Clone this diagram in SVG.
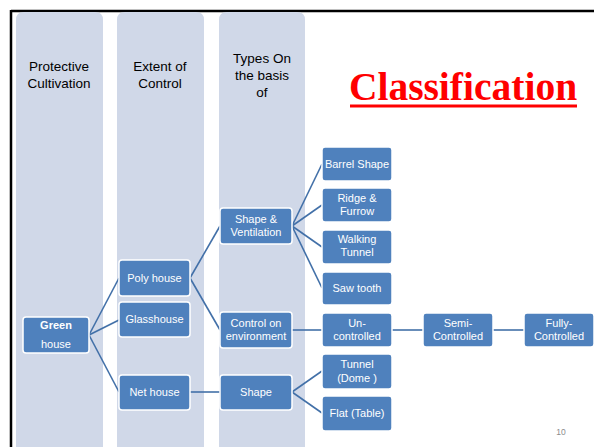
<svg xmlns="http://www.w3.org/2000/svg" width="594" height="447" viewBox="0 0 594 447">
<style>
.col{fill:#D0D8E8}
.hd{font-family:"Liberation Sans",Arial,sans-serif;font-size:13.5px;fill:#000;text-anchor:middle}
.n rect{fill:#4F81BD;stroke:#fff;stroke-width:1.5}
.n text{font-family:"Liberation Sans",Arial,sans-serif;font-size:11px;fill:#fff;text-anchor:middle}
.c line{stroke:#4270A8;stroke-width:1.6}
</style>
<rect x="0" y="0" width="594" height="447" fill="#fff"/>
<g id="frame">
<line x1="11" y1="11" x2="594" y2="11" stroke="#000" stroke-width="2.5"/>
<line x1="11" y1="10" x2="11" y2="447" stroke="#000" stroke-width="2.5"/>
</g>
<g id="columns">
<path class="col" d="M16,447 V20 Q16,12 24,12 H95 Q103,12 103,20 V447 Z"/>
<path class="col" d="M117,447 V20 Q117,12 125,12 H196 Q204,12 204,20 V447 Z"/>
<path class="col" d="M219,447 V20 Q219,12 227,12 H297 Q305,12 305,20 V447 Z"/>
<text class="hd" x="59" y="71">Protective</text>
<text class="hd" x="59" y="88">Cultivation</text>
<text class="hd" x="160" y="71">Extent of</text>
<text class="hd" x="160" y="88">Control</text>
<text class="hd" x="262" y="63">Types On</text>
<text class="hd" x="262" y="80">the basis</text>
<text class="hd" x="262" y="97">of</text>
</g>
<g id="title">
<text x="463" y="100" font-family="'Liberation Serif','Times New Roman',serif" font-weight="bold" font-size="39.5" fill="#FF0000" text-anchor="middle">Classification</text>
<rect x="350" y="104.5" width="227" height="3" fill="#FF0000"/>
</g>
<g id="connectors" class="c">
<line x1="89" y1="335" x2="119" y2="278"/>
<line x1="89" y1="335" x2="119" y2="320"/>
<line x1="89" y1="335" x2="119" y2="392"/>
<line x1="190" y1="278" x2="220" y2="226"/>
<line x1="190" y1="278" x2="220" y2="330"/>
<line x1="292" y1="226" x2="322" y2="164"/>
<line x1="292" y1="226" x2="322" y2="205"/>
<line x1="292" y1="226" x2="322" y2="247"/>
<line x1="292" y1="226" x2="322" y2="288"/>
<line x1="292" y1="330" x2="322" y2="330"/>
<line x1="392" y1="330" x2="423" y2="330"/>
<line x1="493" y1="330" x2="524" y2="330"/>
<line x1="190" y1="392" x2="220" y2="392"/>
<line x1="292" y1="392" x2="322" y2="371"/>
<line x1="292" y1="392" x2="322" y2="413"/>
</g>
<g id="green-house" class="n"><rect x="23" y="317" width="66" height="36" rx="3"/><text x="56" y="329" font-weight="bold">Green</text><text x="56" y="348">house</text></g>
<g id="poly-house" class="n"><rect x="119" y="260" width="71" height="36" rx="3"/><text x="154.5" y="282">Poly house</text></g>
<g id="glasshouse" class="n"><rect x="119" y="302" width="71" height="35" rx="3"/><text x="154.5" y="323">Glasshouse</text></g>
<g id="net-house" class="n"><rect x="119" y="375" width="71" height="35" rx="3"/><text x="154.5" y="396">Net house</text></g>
<g id="shape-ventilation" class="n"><rect x="220" y="208" width="72" height="36" rx="3"/><text x="256" y="223">Shape &amp;</text><text x="256" y="236">Ventilation</text></g>
<g id="control-environment" class="n"><rect x="220" y="312" width="72" height="36" rx="3"/><text x="256" y="327">Control on</text><text x="256" y="340">environment</text></g>
<g id="shape" class="n"><rect x="220" y="375" width="72" height="35" rx="3"/><text x="256" y="396">Shape</text></g>
<g id="barrel-shape" class="n"><rect x="322" y="147" width="70" height="34" rx="3"/><text x="357" y="168">Barrel Shape</text></g>
<g id="ridge-furrow" class="n"><rect x="322" y="188" width="70" height="34" rx="3"/><text x="357" y="202">Ridge &amp;</text><text x="357" y="215">Furrow</text></g>
<g id="walking-tunnel" class="n"><rect x="322" y="230" width="70" height="34" rx="3"/><text x="357" y="243">Walking</text><text x="357" y="256">Tunnel</text></g>
<g id="saw-tooth" class="n"><rect x="322" y="272" width="70" height="33" rx="3"/><text x="357" y="292">Saw tooth</text></g>
<g id="un-controlled" class="n"><rect x="322" y="313" width="70" height="34" rx="3"/><text x="357" y="327">Un-</text><text x="357" y="340">controlled</text></g>
<g id="semi-controlled" class="n"><rect x="423" y="313" width="70" height="34" rx="3"/><text x="458" y="327">Semi-</text><text x="458" y="340">Controlled</text></g>
<g id="fully-controlled" class="n"><rect x="524" y="313" width="70" height="34" rx="3"/><text x="559" y="327">Fully-</text><text x="559" y="340">Controlled</text></g>
<g id="tunnel-dome" class="n"><rect x="322" y="354" width="70" height="35" rx="3"/><text x="357" y="368">Tunnel</text><text x="357" y="382">(Dome )</text></g>
<g id="flat-table" class="n"><rect x="322" y="396" width="70" height="35" rx="3"/><text x="357" y="417">Flat (Table)</text></g>
<text x="561" y="435" font-family="'Liberation Sans',Arial,sans-serif" font-size="8.5" fill="#8C8C8C" text-anchor="middle">10</text>
</svg>
